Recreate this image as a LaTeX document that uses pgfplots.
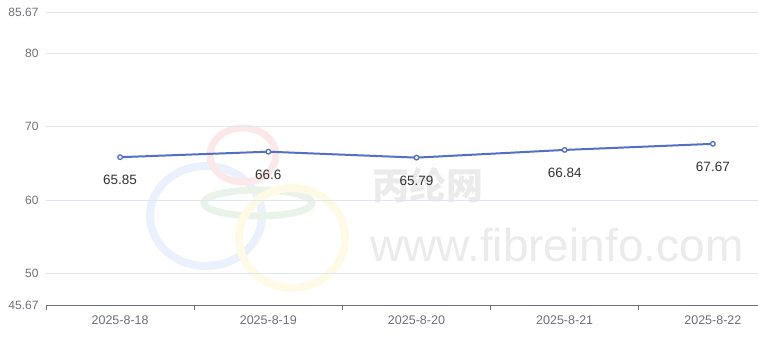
\documentclass[border=0pt]{standalone}
\usepackage{pgfplots}
\pgfplotsset{compat=1.18}
\usepackage{fontspec}
\setmainfont{Liberation Sans}
\newfontfamily\cjk{Noto Sans CJK SC}
\definecolor{lineblue}{HTML}{5470C6}
\definecolor{gridc}{HTML}{E0E6F1}
\definecolor{axisc}{HTML}{6E7079}
\definecolor{labc}{HTML}{333333}
\definecolor{wm}{HTML}{EBEBEB}
\definecolor{wmb}{HTML}{EAF1FD}
\definecolor{wmr}{HTML}{FBE8E8}
\definecolor{wmg}{HTML}{E9F3E9}
\definecolor{wmy}{HTML}{FFFAE6}
\begin{document}
\begin{tikzpicture}[x=1pt,y=1pt]
\clip (0,0) rectangle (758,337);
\fill[white] (0,0) rectangle (758,337);
% watermark (decoration)
\draw[line width=8pt, color=wmb] (206,121) ellipse [x radius=56, y radius=50];
\draw[line width=7pt, color=wmr] (243,182) ellipse [x radius=33, y radius=27];
\draw[line width=7pt, color=wmg] (258,134) ellipse [x radius=54, y radius=13];
\draw[line width=8pt, color=wmy] (292,99) ellipse [x radius=53, y radius=50];
\node[font={\cjk\bfseries\fontsize{37}{37}\selectfont}, text=wm, anchor=west, inner sep=0] at (372,152) {丙纶网};
\node[font={\fontsize{46}{46}\selectfont}, text=wm, anchor=west, inner sep=0] at (370,92) {www.fibreinfo.com};
\begin{axis}[
  at={(46pt,32pt)}, anchor=south west,
  scale only axis, width=714pt, height=293pt,
  xmin=-0.5, xmax=4.318, ymin=45.67, ymax=85.67,
  xtick={0,1,2,3,4},
  xticklabels={2025-8-18,2025-8-19,2025-8-20,2025-8-21,2025-8-22},
  extra x ticks={-0.5,0.5,1.5,2.5,3.5},
  extra x tick labels={},
  extra x tick style={major tick length=5pt, tick style={axisc, line width=0.8pt}, tick align=outside, xticklabel=\empty},
  major tick length=0pt,
  ytick={45.67,50,60,70,80,85.67},
  yticklabels={45.67,50,60,70,80,85.67},
  ymajorgrids, grid style={gridc, line width=0.8pt},
  axis x line*=bottom, axis y line*=left,
  y axis line style={draw=none},
  x axis line style={axisc, line width=0.9pt, -},
  xticklabel style={font=\fontsize{12.5}{14}\selectfont, text=axisc, yshift=-7pt},
  yticklabel style={font=\fontsize{12}{14}\selectfont, text=axisc, xshift=-4pt},
  every y tick label/.append style={anchor=east},
  clip=false,
  nodes near coords,
  point meta=explicit symbolic,
  every node near coord/.style={anchor=center, yshift=-23pt, font=\fontsize{13.5}{15}\selectfont, text=labc},
]
\addplot[lineblue, line width=2pt, mark=*, mark size=2.3pt, mark options={fill=white, draw=lineblue, line width=1.3pt}]
  table[meta=lab] {
  x y lab
  0 65.85 65.85
  1 66.6 66.6
  2 65.79 65.79
  3 66.84 66.84
  4 67.67 67.67
  };
\end{axis}
\end{tikzpicture}
\end{document}
